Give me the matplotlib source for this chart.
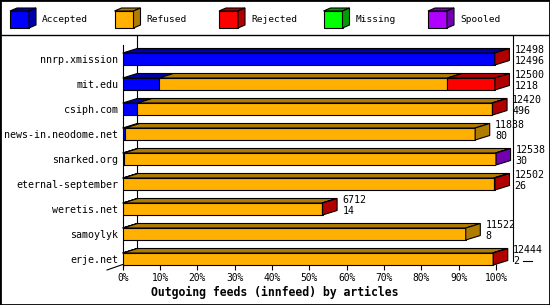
import numpy as np
import matplotlib.pyplot as plt
from matplotlib.patches import Polygon, Rectangle
from matplotlib.lines import Line2D

# ---- data ----
feeds = ['nnrp.xmission', 'mit.edu', 'csiph.com', 'news-in.neodome.net',
         'snarked.org', 'eternal-september', 'weretis.net', 'samoylyk', 'erje.net']
totals = np.array([12498, 12500, 12420, 11838, 12538, 12502, 6712, 11522, 12444])
accepted = np.array([12496, 1218, 496, 80, 30, 26, 14, 8, 2])
refused = np.array([0, 9684, 11904, 11758, 12498, 12436, 6688, 11514, 12422])
rejected = np.array([2, 1598, 20, 0, 0, 40, 10, 0, 20])
missing = np.array([0, 0, 0, 0, 0, 0, 0, 0, 0])
spooled = np.array([0, 0, 0, 0, 10, 0, 0, 0, 0])

series = ['Accepted', 'Refused', 'Rejected', 'Missing', 'Spooled']
front_colors = ['#0000ff', '#ffb000', '#ff0000', '#00ff00', '#b000ff']
dark_colors = ['#0000aa', '#b07c00', '#b00000', '#009c00', '#7000b0']
pct_ticks = np.arange(0, 101, 10)

W, H = 550, 305
MONO = 'DejaVu Sans Mono'

fig = plt.figure(figsize=(W / 100, H / 100), dpi=100)

# outer frame and legend separator
fig.add_artist(Rectangle((0, 0), 1, 1, transform=fig.transFigure,
                         fill=False, lw=2, edgecolor='black'))
fig.add_artist(Line2D([0, 1], [1 - 35 / H] * 2, transform=fig.transFigure,
                      color='black', lw=1))

# ---- main plot (front plane of the fake 3D box) ----
ax = fig.add_axes([122.7 / W, (H - 267) / H, 373.3 / W, 222 / H])
ax.set_xlim(0, 100)
ax.set_ylim((267 - 59) / 25, (45 - 59) / 25)

DX = 3.9     # depth in % units
DY = 0.18    # depth in row units
BH = 0.48    # bar thickness

vals = np.vstack([accepted, refused, rejected, missing, spooled])
scale = 100.0 / totals.max()

for i in range(len(feeds)):
    left = 0.0
    last = None
    y0 = i - BH / 2
    for s in range(len(series)):
        w = vals[s, i] * scale
        if w <= 0:
            continue
        ax.barh(i, w, left=left, height=BH, color=front_colors[s],
                edgecolor='black', lw=0.8, zorder=3)
        ax.add_patch(Polygon([(left, y0), (left + w, y0),
                              (left + w + DX, y0 - DY), (left + DX, y0 - DY)],
                             closed=True, facecolor=dark_colors[s],
                             edgecolor='black', lw=0.8, zorder=3, clip_on=False))
        left += w
        last = s
    # right side face
    ax.add_patch(Polygon([(left, y0), (left + DX, y0 - DY),
                          (left + DX, y0 + BH - DY), (left, y0 + BH)],
                         closed=True, facecolor=dark_colors[last],
                         edgecolor='black', lw=0.8, zorder=3, clip_on=False))
    ax.text(left + DX + 1.4, i - 0.36, str(totals[i]), fontsize=7.2,
            family=MONO, va='center', ha='left', clip_on=False, zorder=4)
    ax.text(left + DX + 1.4, i + 0.07, str(accepted[i]), fontsize=7.2,
            family=MONO, va='center', ha='left', clip_on=False, zorder=4)

# back wall lines
ax.plot([3.9, 3.9], [(36 - 59) / 25, (261 - 59) / 25], color='black',
        lw=0.8, zorder=1, clip_on=False)
ax.plot([104.5, 104.5], [(36 - 59) / 25, (261 - 59) / 25], color='black',
        lw=0.8, zorder=1, clip_on=False)
# floor edge bits
ax.plot([0, -4.2], [8.22, 8.44], color='black', lw=0.8, clip_on=False)
ax.plot([107.2, 109.6], [8.07, 8.07], color='black', lw=0.8, clip_on=False)

for sp in ['top', 'right', 'bottom']:
    ax.spines[sp].set_visible(False)
ax.spines['left'].set_linewidth(0.8)
ax.patch.set_visible(False)

ax.set_yticks(range(len(feeds)))
ax.set_yticklabels(feeds, fontsize=7.2, family=MONO)
ax.tick_params(axis='y', length=0, pad=3.2)
ax.set_xticks(pct_ticks)
ax.set_xticklabels([f'{t}%' for t in pct_ticks], fontsize=6.9, family=MONO)
ax.tick_params(axis='x', direction='inout', length=5, width=0.8, pad=2)

fig.text(274.7 / W, 1 - 292 / H, 'Outgoing feeds (innfeed) by articles',
         ha='center', va='center', fontsize=8.3, fontweight='bold', family=MONO)

# ---- legend with little cubes ----
lax = fig.add_axes([0, 1 - 35 / H, 1, 35 / H])
lax.set_xlim(0, W)
lax.set_ylim(35, 0)
lax.axis('off')
for k, name in enumerate(series):
    x = 10 + k * 104.5
    lax.add_patch(Rectangle((x, 11), 19, 17, facecolor=front_colors[k],
                            edgecolor='black', lw=0.8))
    lax.add_patch(Polygon([(x, 11), (x + 19, 11), (x + 26, 8), (x + 7, 8)],
                          closed=True, facecolor=dark_colors[k],
                          edgecolor='black', lw=0.8))
    lax.add_patch(Polygon([(x + 19, 11), (x + 26, 8), (x + 26, 25), (x + 19, 28)],
                          closed=True, facecolor=dark_colors[k],
                          edgecolor='black', lw=0.8))
    lax.text(x + 32, 20, name, fontsize=6.8, family=MONO, va='center', ha='left')

fig.savefig('out.png', dpi=100)
